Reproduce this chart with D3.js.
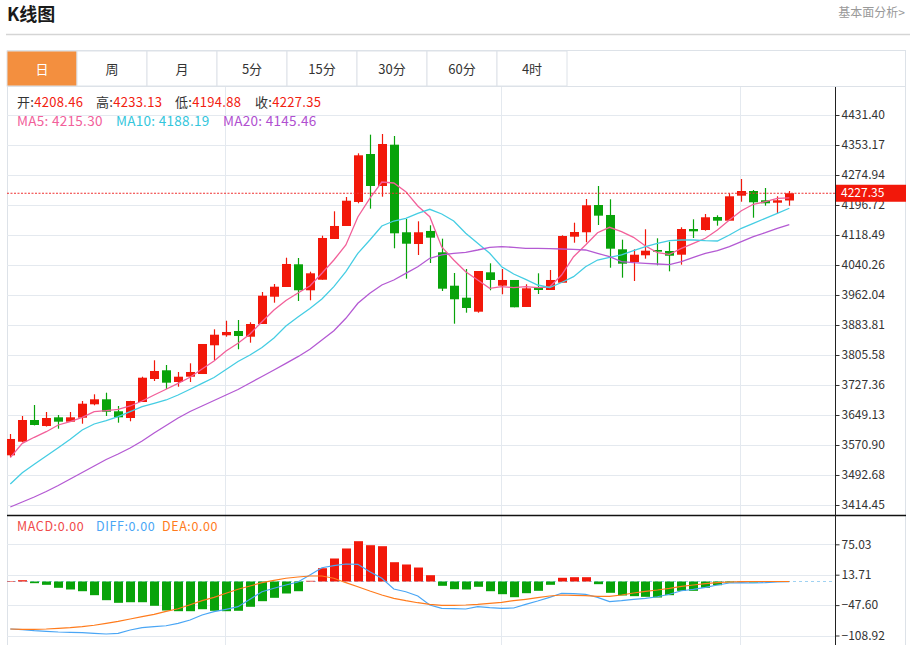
<!DOCTYPE html>
<html>
<head>
<meta charset="utf-8">
<script src="https://cdn.jsdelivr.net/npm/d3@7"></script>
<style>
  body { margin: 0; background: #fff; }
  svg text { font-family: "Microsoft YaHei", "Noto Sans CJK SC", sans-serif; }
</style>
</head>
<body>
<div id="kline"></div>
<script>
// daily candles, oldest first
var openP  = [3544.0,3579.5,3636.1,3620.4,3643.1,3631.7,3642.1,3677.0,3690.1,3658.8,3641.3,3683.0,3743.0,3765.7,3735.2,3749.0,3756.0,3830.9,3857.0,3868.2,3853.3,3886.4,3957.6,3982.9,4042.1,3974.3,4001.9,4108.1,4142.0,4204.6,4329.7,4246.3,4354.0,4125.6,4095.0,4129.0,4073.4,3986.3,3955.0,3918.5,4021.2,3986.3,4001.2,3930.8,3981.1,3975.1,3994.1,4114.1,4125.6,4196.7,4170.7,4081.2,4048.1,4065.6,4079.4,4076.8,4067.1,4134.1,4131.5,4165.4,4155.8,4221.0,4233.2,4209.0,4202.7,4208.46];
var highP  = [3599.6,3646.5,3675.2,3657.0,3649.1,3657.0,3685.6,3703.1,3707.3,3672.6,3686.0,3749.0,3791.8,3779.5,3761.3,3783.9,3834.3,3872.6,3895.0,3896.9,3890.9,3969.9,3990.7,4059.3,4058.5,4022.8,4116.7,4180.3,4217.6,4331.5,4380.1,4381.9,4376.7,4160.2,4154.2,4143.8,4108.9,4019.4,4029.9,4024.6,4044.7,4029.9,4001.2,3990.0,4018.6,4027.2,4117.7,4150.6,4212.4,4246.3,4211.6,4106.3,4081.2,4133.4,4109.9,4101.0,4138.6,4159.4,4173.2,4169.9,4227.2,4264.5,4235.9,4241.1,4219.4,4233.13];
var lowP   = [3539.6,3578.0,3622.0,3619.0,3613.4,3631.0,3626.4,3674.4,3646.5,3629.1,3632.7,3683.0,3737.8,3716.9,3722.9,3735.2,3756.0,3792.5,3853.3,3820.5,3837.7,3886.4,3942.0,3982.9,3946.4,3948.2,4001.9,4108.1,4142.0,4201.2,4187.1,4218.4,4083.8,4004.6,4066.4,4045.5,3972.5,3887.2,3915.9,3915.9,3974.3,3963.9,3930.0,3930.8,3964.7,3975.1,3994.1,4098.4,4099.5,4144.6,4033.2,4007.2,3998.6,4056.7,4039.5,4023.8,4041.1,4110.7,4129.7,4142.8,4155.8,4205.3,4163.6,4194.9,4175.1,4194.88];
var closeP = [3586.6,3636.1,3623.1,3641.3,3631.7,3643.1,3678.6,3690.1,3657.7,3643.1,3685.6,3746.4,3763.9,3733.4,3749.0,3761.3,3834.3,3858.5,3865.6,3855.1,3886.4,3960.2,3983.7,4042.9,3974.3,4018.6,4110.7,4142.0,4207.9,4326.3,4246.3,4355.8,4122.9,4095.8,4125.6,4111.5,3978.5,3950.9,3928.2,4024.6,4001.2,4001.2,3930.0,3979.5,3975.1,4001.2,4115.9,4126.3,4196.0,4168.9,4082.8,4043.7,4067.1,4077.6,4075.0,4064.5,4134.1,4128.1,4164.7,4155.8,4219.4,4233.2,4203.8,4201.2,4209.0,4227.35];

var ma5  = [3537.8,3575.3,3591.0,3605.6,3623.1,3631.7,3643.1,3657.7,3660.3,3664.0,3672.6,3685.6,3701.3,3716.2,3731.8,3747.4,3769.1,3789.9,3816.0,3836.1,3860.3,3892.4,3922.9,3947.7,3967.3,3985.5,4018.6,4053.3,4092.4,4165.4,4214.2,4256.7,4254.1,4231.4,4194.1,4166.2,4087.2,4053.3,4022.8,4001.2,3979.5,3983.7,3981.1,3983.7,3981.1,3982.9,4014.2,4061.9,4092.4,4124.5,4138.6,4127.1,4112.5,4089.8,4072.4,4068.2,4083.8,4096.9,4109.9,4131.5,4157.6,4181.9,4198.6,4205.3,4214.2,4215.30];
var ma10 = [3469.2,3498.7,3520.6,3542.2,3563.9,3585.8,3610.0,3625.7,3634.3,3644.7,3657.7,3670.8,3679.6,3688.3,3701.3,3716.2,3731.8,3746.9,3767.8,3788.6,3805.6,3825.2,3849.9,3881.2,3904.7,3926.8,3951.6,3983.7,4022.8,4070.8,4105.5,4142.0,4155.0,4162.1,4175.1,4185.5,4173.2,4155.0,4122.9,4096.9,4070.8,4035.8,4016.8,4003.0,3988.1,3981.6,3994.6,4009.8,4035.8,4053.3,4060.3,4066.4,4077.6,4088.0,4096.9,4103.6,4105.5,4105.5,4103.6,4102.8,4118.5,4136.0,4149.0,4162.1,4175.1,4188.19];
var ma20 = [3409.2,3422.3,3435.3,3449.7,3465.3,3482.2,3499.2,3516.1,3533.1,3547.4,3563.1,3581.3,3602.2,3621.8,3641.3,3658.3,3672.6,3686.9,3701.3,3715.6,3732.6,3749.5,3766.5,3783.9,3801.2,3820.5,3844.7,3869.0,3901.3,3940.4,3966.5,3988.1,4001.2,4018.6,4035.8,4057.7,4066.4,4070.8,4073.4,4079.4,4086.4,4088.0,4086.4,4083.8,4083.8,4082.8,4082.0,4081.2,4079.4,4070.8,4061.9,4048.9,4046.3,4044.7,4042.9,4041.1,4048.9,4060.3,4070.8,4077.6,4088.0,4101.0,4114.1,4124.5,4136.0,4145.46];

var macd = [1.0,2.6,-3.4,-6.7,-12.7,-16.1,-19.6,-27.6,-37.7,-43.0,-41.8,-41.8,-49.0,-58.5,-59.9,-59.9,-55.9,-59.1,-59.9,-59.1,-51.0,-39.7,-32.9,-24.2,-19.6,1.4,26.8,46.4,66.6,81.3,73.2,71.2,38.9,34.3,28.2,12.7,-8.7,-15.5,-16.1,-10.7,-19.6,-25.6,-31.7,-23.6,-18.8,-6.7,7.5,8.7,8.7,-5.4,-22.8,-28.2,-29.6,-30.9,-32.3,-27.6,-18.8,-18.8,-12.7,-7.5,-2.0,-1.0,-2.0,-0.5,-0.3,0];
var diff = [-95.8,-97.2,-99.2,-100.4,-101.9,-102.5,-103.3,-104.5,-105.9,-104.5,-97.8,-93.2,-91.2,-89.2,-84.3,-77.7,-67.6,-60.9,-56.1,-50.8,-35.9,-20.6,-13.7,-7.1,-1.0,13.1,27.8,31.9,35.3,34.7,19.8,6.5,-15.1,-20.6,-29.2,-47.4,-54.1,-54.9,-55.5,-50.8,-52.8,-54.1,-53.5,-46.0,-39.3,-31.9,-23.8,-24.6,-25.8,-31.9,-40.7,-38.7,-35.9,-33.9,-30.7,-25.8,-18.6,-15.7,-11.7,-7.1,-3.0,-2.4,-3.0,-2.4,-1.0,-0.4];
var dea  = [-95.8,-96.4,-96.4,-95.8,-94.4,-93.2,-91.2,-88.3,-84.3,-80.3,-75.6,-71.0,-66.2,-60.1,-54.9,-46.8,-38.7,-31.9,-23.8,-15.7,-9.1,-2.4,2.4,6.5,9.1,11.1,11.1,6.5,-2.4,-10.5,-19.2,-27.2,-33.9,-38.7,-42.8,-46.0,-48.0,-48.0,-47.4,-46.0,-44.0,-42.0,-38.7,-35.9,-32.7,-29.2,-27.2,-27.8,-28.6,-29.9,-29.9,-27.2,-23.2,-19.8,-17.1,-13.7,-9.7,-7.1,-4.4,-2.4,-1.0,-0.4,0,0,0,0];

var priceTicks = [4431.40,4353.17,4274.94,4196.72,4118.49,4040.26,3962.04,3883.81,3805.58,3727.36,3649.13,3570.90,3492.68,3414.45];
var macdTicks = [75.03,13.71,-47.60,-108.92];
var monthStarts = [18, 41, 61];
var tabs = ["日","周","月","5分","15分","30分","60分","4时"];

var RED = "#f2180a", GREEN = "#08a30a";
var left = 7, right = 835, outerRight = 906;

var svg = d3.select("#kline").append("svg")
  .attr("width", 912)
  .attr("height", 645);

// header
svg.append("text").attr("x", 7).attr("y", 21)
  .attr("font-size", 18).attr("font-weight", "bold").attr("fill", "#1a1a1a")
  .text("K线图");
svg.append("text").attr("x", 905).attr("y", 17).attr("text-anchor", "end")
  .attr("font-size", 12).attr("fill", "#999").text("基本面分析>");
svg.append("line").attr("x1", 6).attr("x2", 910).attr("y1", 34.5).attr("y2", 34.5)
  .attr("stroke", "#d5d5d5").attr("stroke-width", 1.5);

// frame + tabs
svg.append("rect").attr("x", 7.5).attr("y", 50.5).attr("width", 898).attr("height", 600)
  .attr("fill", "none").attr("stroke", "#dde2e8");
var tabG = svg.selectAll(".tab").data(tabs).enter().append("g").attr("class", "tab")
  .attr("transform", function(d, i) { return "translate(" + (left + i * 70) + ",51)"; });
tabG.append("rect").attr("width", 70).attr("height", 35)
  .attr("fill", function(d, i) { return i == 0 ? "#f38f3f" : "#fff"; })
  .attr("stroke", "#dde2e8");
tabG.append("text").attr("x", 35).attr("y", 22.5).attr("text-anchor", "middle")
  .attr("font-size", 13).attr("fill", function(d, i) { return i == 0 ? "#fff" : "#333"; })
  .text(function(d) { return d; });
svg.append("line").attr("x1", left).attr("x2", outerRight).attr("y1", 86.5).attr("y2", 86.5)
  .attr("stroke", "#dde2e8");

// scales
var x = d3.scaleLinear().domain([0, 65]).range([10.3, 789.3]);
var y = d3.scaleLinear().domain([3414.45, 4431.40]).range([505, 115]);
var ym = d3.scaleLinear().domain([-108.92, 75.03]).range([635.5, 544.3]);

svg.append("clipPath").attr("id", "plot").append("rect")
  .attr("x", left).attr("y", 87).attr("width", right - left).attr("height", 560);

// grid
svg.append("g").selectAll("line").data(priceTicks).enter().append("line")
  .attr("x1", left).attr("x2", right).attr("y1", function(d) { return Math.round(y(d)) + 0.5; })
  .attr("y2", function(d) { return Math.round(y(d)) + 0.5; }).attr("stroke", "#e4e9ef");
svg.append("g").selectAll("line").data(macdTicks).enter().append("line")
  .attr("x1", left).attr("x2", right).attr("y1", function(d) { return Math.round(ym(d)) + 0.5; })
  .attr("y2", function(d) { return Math.round(ym(d)) + 0.5; }).attr("stroke", "#e4e9ef");
svg.append("g").selectAll("line").data(monthStarts).enter().append("line")
  .attr("x1", function(d) { return Math.round(x(d)) - 0.5; })
  .attr("x2", function(d) { return Math.round(x(d)) - 0.5; })
  .attr("y1", 87).attr("y2", 645).attr("stroke", "#e4e9ef");

var plot = svg.append("g").attr("clip-path", "url(#plot)");

// candles
var idx = d3.range(closeP.length);
var candle = plot.selectAll(".candle").data(idx).enter().append("g").attr("class", "candle");
candle.append("line")
  .attr("x1", function(i) { return Math.round(x(i)) + 0.5; })
  .attr("x2", function(i) { return Math.round(x(i)) + 0.5; })
  .attr("y1", function(i) { return y(highP[i]); })
  .attr("y2", function(i) { return y(lowP[i]); })
  .attr("stroke", function(i) { return closeP[i] >= openP[i] ? RED : GREEN; })
  .attr("stroke-width", 1.2);
candle.append("rect")
  .attr("x", function(i) { return Math.round(x(i)) - 4; })
  .attr("width", 9)
  .attr("y", function(i) { return y(Math.max(openP[i], closeP[i])); })
  .attr("height", function(i) { return Math.max(1, Math.abs(y(openP[i]) - y(closeP[i]))); })
  .attr("fill", function(i) { return closeP[i] >= openP[i] ? RED : GREEN; });

// moving averages
var maLine = function(arr) {
  return d3.line().x(function(d, i) { return x(i); }).y(function(d) { return y(d); })(arr);
};
[[ma5, "#f2609a"], [ma10, "#45cde3"], [ma20, "#b45ad3"]].forEach(function(m) {
  plot.append("path").attr("d", maLine(m[0])).attr("fill", "none")
    .attr("stroke", m[1]).attr("stroke-width", 1.3);
});

// last close line
var last = closeP[closeP.length - 1];
plot.append("line").attr("x1", left).attr("x2", right)
  .attr("y1", y(last)).attr("y2", y(last))
  .attr("stroke", "#f03030").attr("stroke-dasharray", "2,1.5");

// info lines
var info = svg.append("text").attr("x", 17).attr("y", 107).attr("font-size", 13)
  .attr("letter-spacing", 0.3);
[["开:", "4208.46"], ["高:", "4233.13"], ["低:", "4194.88"], ["收:", "4227.35"]].forEach(function(p, i) {
  info.append("tspan").attr("x", [17, 96, 175, 255][i]).attr("fill", "#333").text(p[0]);
  info.append("tspan").attr("fill", "#f2200f").text(p[1]);
});
var maInfo = svg.append("text").attr("y", 126).attr("font-size", 13.5).attr("letter-spacing", 0.3);
maInfo.append("tspan").attr("x", 17).attr("fill", "#f2609a").text("MA5: 4215.30");
maInfo.append("tspan").attr("x", 116).attr("fill", "#33c6dc").text("MA10: 4188.19");
maInfo.append("tspan").attr("x", 223).attr("fill", "#b04fd0").text("MA20: 4145.46");

// MACD panel
svg.append("line").attr("x1", left).attr("x2", outerRight).attr("y1", 515.5).attr("y2", 515.5)
  .attr("stroke", "#111").attr("stroke-width", 1.3);
plot.append("line").attr("x1", left).attr("x2", right)
  .attr("y1", ym(0)).attr("y2", ym(0))
  .attr("stroke", "#9fd2f2").attr("stroke-dasharray", "3,3");
plot.selectAll(".bar").data(macd).enter().append("rect").attr("class", "bar")
  .attr("x", function(d, i) { return Math.round(x(i)) - 4; })
  .attr("width", 9)
  .attr("y", function(d) { return ym(Math.max(0, d)); })
  .attr("height", function(d) { return Math.abs(ym(d) - ym(0)); })
  .attr("fill", function(d) { return d >= 0 ? RED : GREEN; });
var mLine = function(arr) {
  return d3.line().x(function(d, i) { return x(i); }).y(function(d) { return ym(d); })(arr);
};
plot.append("path").attr("d", mLine(diff)).attr("fill", "none").attr("stroke", "#4aa6f5").attr("stroke-width", 1.2);
plot.append("path").attr("d", mLine(dea)).attr("fill", "none").attr("stroke", "#ff7b1c").attr("stroke-width", 1.2);

var mInfo = svg.append("text").attr("y", 531).attr("font-size", 12.5).attr("letter-spacing", 0.6);
mInfo.append("tspan").attr("x", 17).attr("fill", "#f04a4a").text("MACD:0.00");
mInfo.append("tspan").attr("x", 96).attr("fill", "#4aa6f5").text("DIFF:0.00");
mInfo.append("tspan").attr("x", 162).attr("fill", "#ff7b1c").text("DEA:0.00");

// axes
var axisP = svg.append("g").attr("transform", "translate(" + (right + 0.5) + ",0)")
  .call(d3.axisRight(y).tickValues(priceTicks).tickSize(4).tickPadding(2)
    .tickFormat(d3.format(".2f")));
var axisM = svg.append("g").attr("transform", "translate(" + (right + 0.5) + ",0)")
  .call(d3.axisRight(ym).tickValues(macdTicks).tickSize(4).tickPadding(2)
    .tickFormat(d3.format(".2f")));
[axisP, axisM].forEach(function(a) {
  a.select(".domain").remove();
  a.selectAll("text").attr("font-size", 12).attr("fill", "#333")
    .style("font-family", "'Microsoft YaHei','Noto Sans CJK SC',sans-serif");
  a.selectAll("line").attr("stroke", "#333");
});
svg.append("line").attr("x1", right + 0.5).attr("x2", right + 0.5).attr("y1", 87).attr("y2", 645)
  .attr("stroke", "#222");

// last price tag
svg.append("rect").attr("x", right + 1).attr("y", y(last) - 8.5).attr("width", 70).attr("height", 17)
  .attr("fill", "#f2180a");
svg.append("text").attr("x", 841).attr("y", y(last)).attr("dy", "0.35em")
  .attr("font-size", 12).attr("fill", "#fff").text(d3.format(".2f")(last));
</script>
</body>
</html>
